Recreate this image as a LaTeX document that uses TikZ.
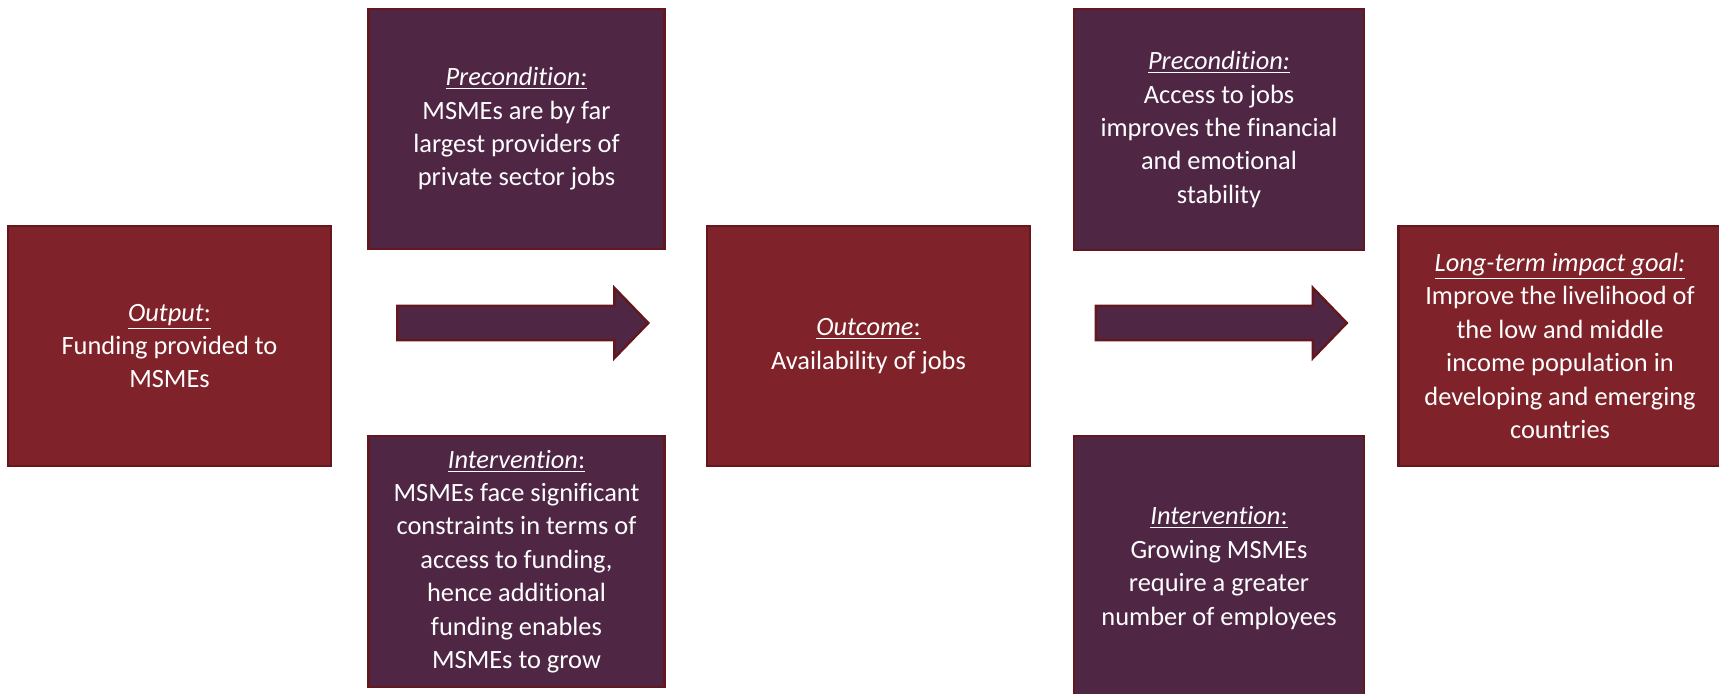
\documentclass[tikz,border=0pt]{standalone}
\usepackage{fontspec}
\setmainfont{Carlito}[Ligatures=NoCommon]
\usetikzlibrary{shapes.arrows}
\definecolor{boxred}{RGB}{127,34,41}
\definecolor{boxplum}{RGB}{80,38,69}
\definecolor{edgered}{RGB}{100,24,30}
\begin{document}
\begin{tikzpicture}[x=0.5pt,y=-0.5pt,
  box/.style={draw=edgered,line width=1.2pt,text=white,align=center,inner sep=0pt,
    font=\fontsize{13.2}{16.7}\selectfont},
  redbox/.style={box,fill=boxred,minimum width=161.5pt,minimum height=120pt},
  plumbox/.style={box,fill=boxplum,minimum width=148pt},
  bigarrow/.style={single arrow,draw=edgered,fill=boxplum,line width=1.2pt,
    minimum height=125.5pt,inner sep=0pt,inner ysep=8pt,
    single arrow head extend=9pt,single arrow tip angle=92}]
\useasboundingbox (0,0) rectangle (1719,694);
% outputs and outcomes
\node[redbox] (output) at (169.5,346) {\underline{\textit{Output}:}\\Funding provided to\\MSMEs};
\node[redbox] (outcome) at (868.5,346) {\underline{\textit{Outcome}:}\\Availability of jobs};
\node[redbox] (goal) at (1560,346) {\underline{\textit{Long-term impact goal:}}\\Improve the livelihood of\\the low and middle\\income population in\\developing and emerging\\countries};
% preconditions above, interventions below
\node[plumbox,minimum height=120pt] (pre1) at (516.5,129) {\underline{\textit{Precondition:}}\\MSMEs are by far\\largest providers of\\private sector jobs};
\node[plumbox,minimum height=125.5pt] (int1) at (516.5,561.5) {\underline{\textit{Intervention}:}\\MSMEs face significant\\constraints in terms of\\access to funding,\\hence additional\\funding enables\\MSMEs to grow};
\node[plumbox,minimum width=145pt,minimum height=120.5pt] (pre2) at (1219,129.5) {\underline{\textit{Precondition:}}\\Access to jobs\\improves the financial\\and emotional\\stability};
\node[plumbox,minimum width=145pt,minimum height=132pt] (int2) at (1219,568) {\underline{\textit{Intervention}:}\\Growing MSMEs\\require a greater\\number of employees};
% block arrows
\node[bigarrow] (arr1) at (514.5,323) {};
\node[bigarrow] (arr2) at (1213,323) {};
\end{tikzpicture}
\end{document}
